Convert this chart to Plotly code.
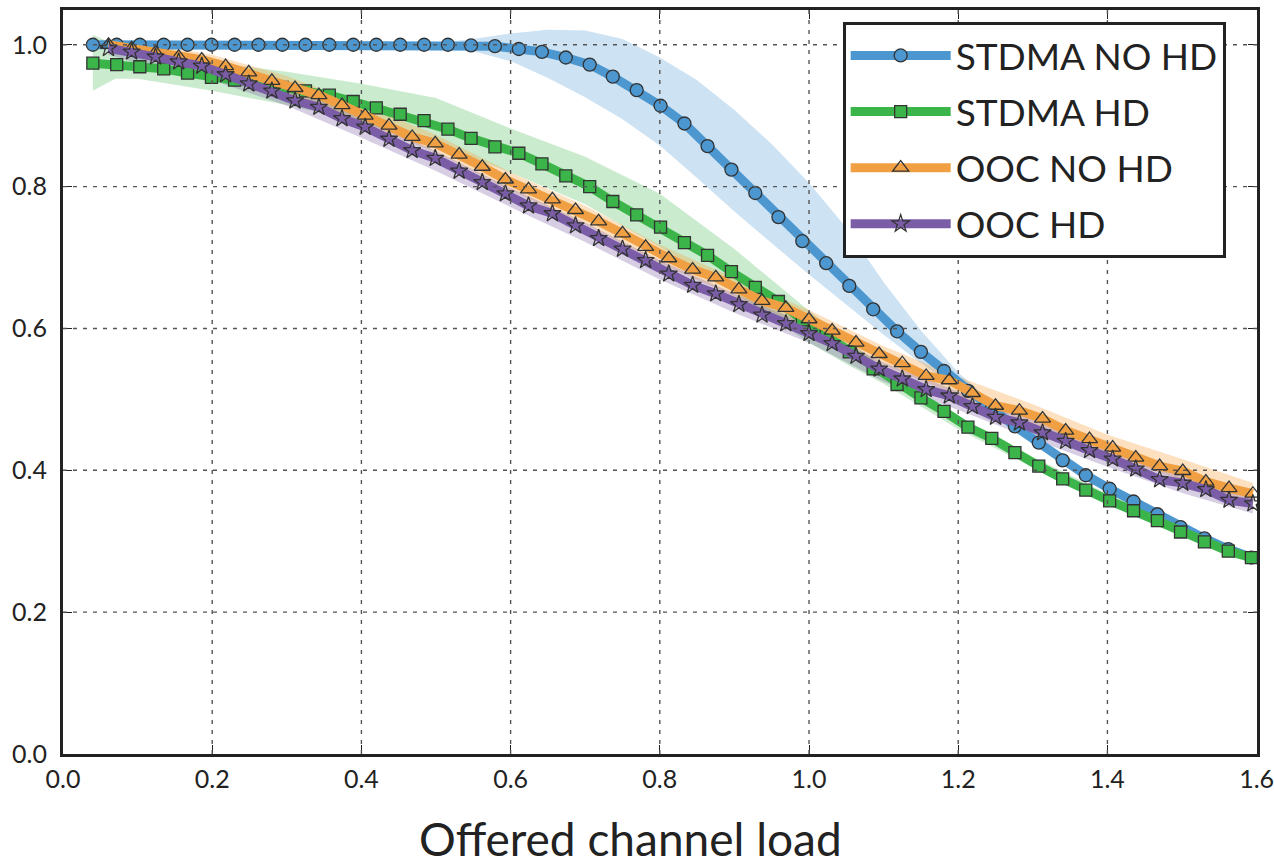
import plotly.graph_objects as go

# ---------------- data ----------------
x_stdma = [0.040, 0.072, 0.103, 0.135, 0.167, 0.199, 0.230, 0.262, 0.294, 0.325,
           0.357, 0.389, 0.420, 0.452, 0.484, 0.516, 0.547, 0.579, 0.611, 0.642,
           0.674, 0.706, 0.737, 0.769, 0.801, 0.833, 0.864, 0.896, 0.928, 0.959,
           0.991, 1.023, 1.054, 1.086, 1.118, 1.150, 1.181, 1.213, 1.245, 1.276,
           1.308, 1.340, 1.371, 1.403, 1.435, 1.467, 1.498, 1.530, 1.562, 1.593]
x_ooc = [0.061, 0.092, 0.124, 0.155, 0.186, 0.218, 0.249, 0.280, 0.311, 0.343,
         0.374, 0.405, 0.437, 0.468, 0.499, 0.531, 0.562, 0.593, 0.624, 0.656,
         0.687, 0.718, 0.750, 0.781, 0.812, 0.844, 0.875, 0.906, 0.937, 0.969,
         1.000, 1.031, 1.063, 1.094, 1.125, 1.157, 1.188, 1.219, 1.250, 1.282,
         1.313, 1.344, 1.376, 1.407, 1.438, 1.470, 1.501, 1.532, 1.563, 1.595]

stdma_no_hd = [1.000, 1.000, 1.000, 1.000, 1.000, 1.000, 1.000, 1.000, 1.000, 1.000,
               1.000, 1.000, 1.000, 1.000, 1.000, 1.000, 0.999, 0.998, 0.994, 0.990,
               0.982, 0.972, 0.955, 0.936, 0.914, 0.889, 0.857, 0.824, 0.791, 0.757,
               0.723, 0.692, 0.660, 0.627, 0.596, 0.567, 0.540, 0.512, 0.487, 0.462,
               0.439, 0.414, 0.393, 0.374, 0.356, 0.338, 0.320, 0.304, 0.289, 0.277]
stdma_hd = [0.974, 0.972, 0.969, 0.966, 0.960, 0.954, 0.950, 0.945, 0.940, 0.935,
            0.929, 0.920, 0.911, 0.902, 0.893, 0.881, 0.868, 0.856, 0.847, 0.832,
            0.815, 0.800, 0.779, 0.760, 0.743, 0.721, 0.703, 0.680, 0.658, 0.638,
            0.612, 0.590, 0.567, 0.543, 0.521, 0.502, 0.483, 0.461, 0.445, 0.425,
            0.406, 0.388, 0.372, 0.357, 0.343, 0.329, 0.313, 0.299, 0.286, 0.277]
ooc_no_hd = [1.000, 0.995, 0.989, 0.983, 0.979, 0.970, 0.961, 0.949, 0.939, 0.929,
             0.915, 0.900, 0.886, 0.870, 0.861, 0.845, 0.828, 0.810, 0.796, 0.782,
             0.767, 0.751, 0.734, 0.715, 0.699, 0.683, 0.672, 0.655, 0.639, 0.629,
             0.613, 0.597, 0.580, 0.564, 0.551, 0.533, 0.527, 0.509, 0.491, 0.484,
             0.473, 0.456, 0.444, 0.432, 0.418, 0.406, 0.399, 0.384, 0.375, 0.367]
ooc_hd = [0.995, 0.990, 0.983, 0.976, 0.970, 0.958, 0.945, 0.935, 0.921, 0.912,
          0.896, 0.884, 0.867, 0.851, 0.840, 0.822, 0.806, 0.790, 0.773, 0.762,
          0.745, 0.727, 0.712, 0.696, 0.677, 0.661, 0.649, 0.634, 0.619, 0.607,
          0.593, 0.579, 0.561, 0.543, 0.529, 0.514, 0.505, 0.490, 0.475, 0.467,
          0.453, 0.441, 0.428, 0.416, 0.402, 0.387, 0.382, 0.373, 0.358, 0.353]

# confidence bands
band_x_blue = [0.04, 0.5, 0.55, 0.6, 0.65, 0.7, 0.75, 0.8, 0.85, 0.9, 0.95, 1.0,
               1.05, 1.1, 1.15, 1.2, 1.25, 1.3, 1.4, 1.5, 1.593]
band_up_blue = [1.0, 1.002, 1.008, 1.016, 1.021, 1.020, 1.008, 0.982, 0.950, 0.908, 0.860,
                0.805, 0.742, 0.665, 0.597, 0.538, 0.492, 0.452, 0.381, 0.324, 0.280]
band_lo_blue = [1.0, 0.998, 0.991, 0.977, 0.953, 0.926, 0.895, 0.858, 0.812, 0.765, 0.720,
                0.676, 0.633, 0.591, 0.551, 0.513, 0.477, 0.440, 0.371, 0.316, 0.271]

band_x_green = [0.04, 0.07, 0.1, 0.2, 0.3, 0.4, 0.5, 0.6, 0.7, 0.8, 0.9, 1.0,
                1.05, 1.1, 1.2, 1.3, 1.4, 1.5, 1.593]
band_up_green = [1.014, 1.000, 0.990, 0.975, 0.962, 0.945, 0.925, 0.882, 0.842, 0.790,
                 0.712, 0.625, 0.585, 0.545, 0.476, 0.419, 0.367, 0.321, 0.282]
band_lo_green = [0.935, 0.952, 0.952, 0.935, 0.915, 0.890, 0.860, 0.820, 0.775, 0.715,
                 0.650, 0.580, 0.550, 0.522, 0.458, 0.404, 0.355, 0.311, 0.272]

band_x_ooc = [0.061, 0.1, 0.2, 0.3, 0.4, 0.5, 0.6, 0.7, 0.8, 0.9, 1.0, 1.1, 1.2,
              1.3, 1.4, 1.5, 1.595]
band_up_orange = [1.008, 1.004, 0.986, 0.956, 0.916, 0.873, 0.820, 0.773, 0.718, 0.671,
                  0.626, 0.575, 0.532, 0.493, 0.450, 0.416, 0.382]
band_lo_orange = [0.992, 0.984, 0.963, 0.930, 0.889, 0.848, 0.794, 0.747, 0.692, 0.645,
                  0.601, 0.548, 0.505, 0.465, 0.421, 0.386, 0.354]
band_up_purple = [1.002, 0.998, 0.976, 0.941, 0.897, 0.850, 0.798, 0.749, 0.696, 0.649,
                  0.605, 0.552, 0.511, 0.471, 0.432, 0.395, 0.364]
band_lo_purple = [0.986, 0.974, 0.950, 0.914, 0.869, 0.822, 0.771, 0.722, 0.669, 0.622,
                  0.580, 0.525, 0.485, 0.444, 0.405, 0.368, 0.339]

x_ticks = [0.0, 0.2, 0.4, 0.6, 0.8, 1.0, 1.2, 1.4, 1.6]
y_ticks = [0.0, 0.2, 0.4, 0.6, 0.8, 1.0]
x_title = "Offered channel load"

# ---------------- styles ----------------
FONT = "Lato, 'Open Sans', sans-serif"
INK = "#222222"
series = [
    ("STDMA NO HD", x_stdma, stdma_no_hd, band_x_blue, band_lo_blue, band_up_blue,
     "#4c97cf", "rgba(76,151,207,0.28)", "circle", 13, True),
    ("STDMA HD", x_stdma, stdma_hd, band_x_green, band_lo_green, band_up_green,
     "#3bb54a", "rgba(59,181,74,0.27)", "square", 12, True),
    ("OOC NO HD", x_ooc, ooc_no_hd, band_x_ooc, band_lo_orange, band_up_orange,
     "#f0a043", "rgba(245,165,75,0.35)", "triangle-up-open", 14, False),
    ("OOC HD", x_ooc, ooc_hd, band_x_ooc, band_lo_purple, band_up_purple,
     "#7a5da6", "rgba(122,93,166,0.30)", "star-open", 13, False),
]

fig = go.Figure()

# bands first
for name, xs, ys, bx, blo, bup, col, bcol, sym, msz, filled in series:
    fig.add_trace(go.Scatter(
        x=bx + bx[::-1], y=bup + blo[::-1], fill="toself", fillcolor=bcol,
        line=dict(width=0), mode="lines", hoverinfo="skip", showlegend=False))

# lines + markers
for k, (name, xs, ys, bx, blo, bup, col, bcol, sym, msz, filled) in enumerate(series):
    if filled:
        marker = dict(symbol=sym, size=msz, color=col,
                      line=dict(color="#333333", width=1.3))
    else:
        marker = dict(symbol=sym, size=msz, color="#333333",
                      line=dict(color="#333333", width=1.3))
    fig.add_trace(go.Scatter(
        x=xs, y=ys, mode="lines+markers", name=name, legendgroup=f"g{k}",
        line=dict(color=col, width=9), marker=marker))

# grid lines drawn above the data (as in the reference)
for xv in x_ticks[1:-1]:
    fig.add_shape(type="line", xref="x", yref="paper", x0=xv, x1=xv, y0=0, y1=1,
                  line=dict(color="#555555", width=1.4, dash="4px,6px"), layer="above")
for yv in y_ticks[1:]:
    fig.add_shape(type="line", xref="paper", yref="y", x0=0, x1=1, y0=yv, y1=yv,
                  line=dict(color="#555555", width=1.4, dash="4px,6px"), layer="above")

axis_common = dict(showgrid=False, zeroline=False, showline=True, linewidth=3,
                   linecolor=INK, mirror="ticks", ticks="inside", ticklen=9,
                   tickwidth=1, tickcolor=INK, ticklabeloverflow="allow",
                   automargin=False,
                   tickfont=dict(family=FONT, size=25, color=INK))

fig.add_annotation(text=x_title, xref="paper", yref="paper", x=0.475, y=-0.113,
                   xanchor="center", yanchor="middle", showarrow=False,
                   font=dict(family=FONT, size=46, color=INK))

fig.update_layout(
    width=1274, height=865,
    margin=dict(l=63, r=17, t=10, b=111, autoexpand=False),
    paper_bgcolor="white", plot_bgcolor="white",
    font=dict(family=FONT, color=INK),
    xaxis=dict(range=[0, 1.6005], tickvals=x_ticks, tickformat=".1f",
               ticklabelstandoff=1, **axis_common),
    yaxis=dict(range=[0, 1.049], tickvals=y_ticks, tickformat=".1f",
               ticklabelstandoff=8, **axis_common),
    legend=dict(x=0.653, y=0.984, xanchor="left", yanchor="top",
                bgcolor="white", bordercolor=INK, borderwidth=3,
                font=dict(family=FONT, size=37, color=INK),
                itemwidth=100, tracegroupgap=5),
    showlegend=True,
)

fig.write_html("out.html", config={"displayModeBar": False},
               post_script="document.body.style.margin='0';")
